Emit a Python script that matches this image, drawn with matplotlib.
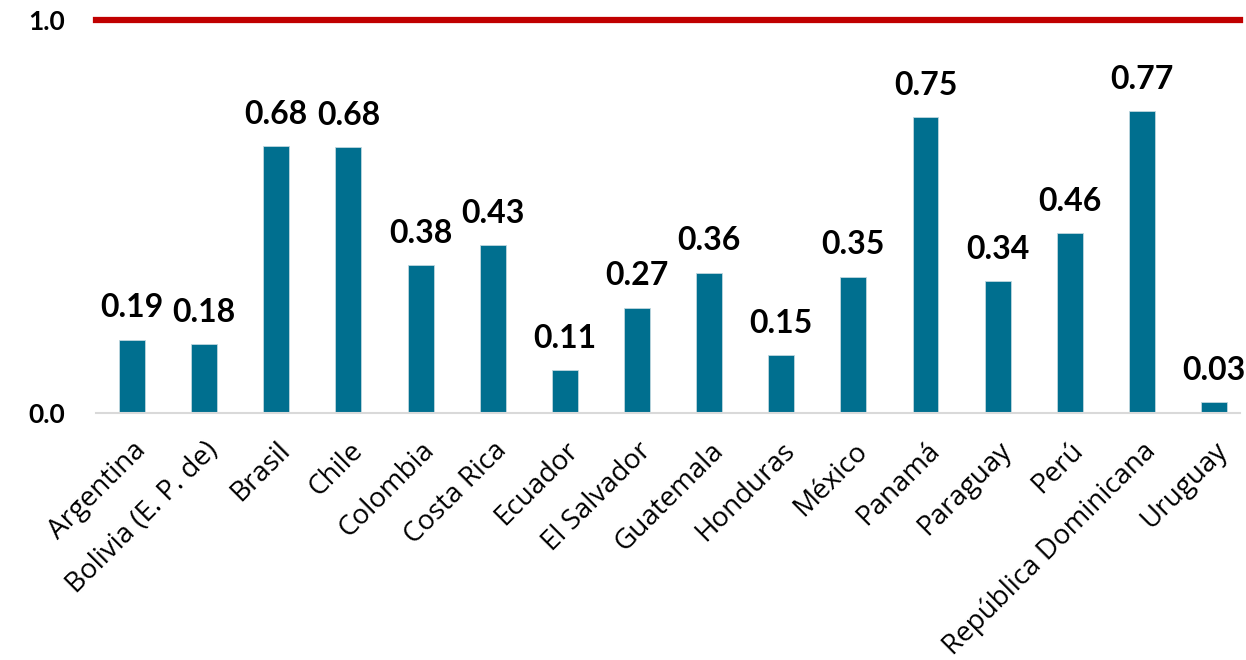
import matplotlib
matplotlib.use("Agg")
import matplotlib.pyplot as plt

countries = ["Argentina", "Bolivia (E. P. de)", "Brasil", "Chile", "Colombia", "Costa Rica",
             "Ecuador", "El Salvador", "Guatemala", "Honduras", "México", "Panamá",
             "Paraguay", "Perú", "República Dominicana", "Uruguay"]
values = [0.19, 0.18, 0.68, 0.68, 0.38, 0.43, 0.11, 0.27, 0.36, 0.15, 0.35, 0.75,
          0.34, 0.46, 0.77, 0.03]
# bar heights
heights = [0.187, 0.176, 0.680, 0.677, 0.376, 0.428, 0.110, 0.268, 0.357, 0.147, 0.347, 0.753,
           0.335, 0.458, 0.769, 0.027]
reference = 1.0
yticks = [0.0, 1.0]
ytick_labels = ["0.0", "1.0"]

W, H = 1246, 660
fig = plt.figure(figsize=(W / 100, H / 100), dpi=100)
ax = fig.add_axes([96 / W, (H - 413) / H, (1240 - 96) / W, (413 - 20) / H])

x = list(range(len(countries)))
ax.bar(x, heights, width=0.36, color="#006F8F", edgecolor="#BFD7DF", linewidth=0.6, zorder=2)
ax.axhline(reference, color="#C00000", linewidth=4.5, zorder=3, clip_on=False)

for xi, h, v in zip(x, heights, values):
    ax.annotate(f"{v:.2f}", (xi, h), xytext=(0, 16), textcoords="offset points",
                ha="center", va="baseline", fontsize=23, fontweight="bold",
                fontfamily="Lato", color="#000000")

ax.set_xlim(-0.499, 15.36)
ax.set_ylim(0, 1.0)
ax.set_yticks(yticks)
ax.set_yticklabels(ytick_labels, fontsize=19, fontweight="bold", fontfamily="Lato")
ax.set_xticks(x)
ax.set_xticklabels(countries, rotation=45, ha="right", rotation_mode="anchor",
                   fontsize=20, fontfamily="Open Sans")
ax.tick_params(axis="both", length=0)
ax.tick_params(axis="x", pad=17)
ax.tick_params(axis="y", pad=22)
for s in ["top", "right", "left"]:
    ax.spines[s].set_visible(False)
ax.spines["bottom"].set_color("#D9D9D9")
ax.spines["bottom"].set_linewidth(1.5)

fig.savefig("out.png", dpi=100)
